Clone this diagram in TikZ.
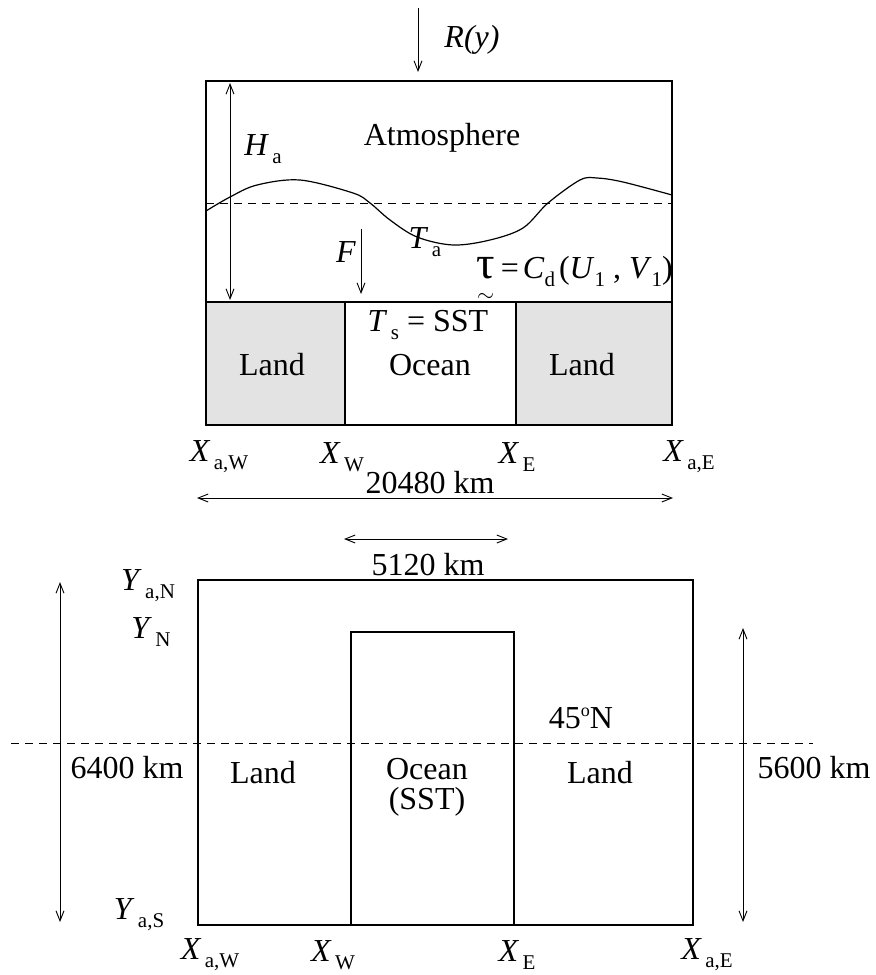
\documentclass[tikz,border=0pt]{standalone}
\usepackage{fontspec}
\setmainfont{Liberation Serif}
\usepackage{amsmath}
\usetikzlibrary{arrows.meta}

% italic symbol with an upright subscript
\newcommand{\sym}[2]{\textit{#1}\raisebox{-4pt}{\fontsize{10.5}{12}\selectfont\,#2}}
% same, set tight (for the stress formula)
\newcommand{\tsym}[2]{\textit{#1}\raisebox{-4pt}{\fontsize{10.5}{12}\selectfont #2}}

\begin{document}
\begin{tikzpicture}[x=0.5pt,y=-0.5pt,
  % Text styles
  lbl/.style={font=\fontsize{16}{19}\selectfont, inner sep=0pt},
  % Shape styles
  box/.style={draw, line width=1pt},
  land/.style={box, fill=gray!22},
  wall/.style={draw, line width=0.6pt},
  % Arrow styles
  dim/.style={{Straight Barb[length=5pt,width=4pt]}-{Straight Barb[length=5pt,width=4pt]}, line width=0.45pt},
  flux/.style={-{Straight Barb[length=5pt,width=4pt]}, line width=0.45pt},
  lat/.style={dashed, dash pattern=on 4pt off 3pt, line width=0.5pt},
]
\useasboundingbox (0,0) rectangle (875,975);

% === Top panel: vertical section ===
\draw[land] (206,302) rectangle (345,425);
\draw[land] (516,302) rectangle (672,425);
\draw[box] (206,81) rectangle (672,425);
\draw[box] (206,302) -- (672,302);
\draw[wall] (345,302) -- (345,425);
\draw[wall] (516,302) -- (516,425);

% mean level and T_a profile
\draw[lat] (206,203) -- (672,203);
\draw[line width=0.6pt] plot[smooth, tension=0.55] coordinates {
  (206,211) (230,197) (257,185) (300,180) (353,193) (370,203) (390,220)
  (417,237) (453,245) (490,240) (523,228) (548,203) (580,180) (597,178)
  (623,182) (672,195)};

% radiation, height, heat flux
\coordinate (Rtop) at (418,8);
\coordinate (Rbot) at (418,72);
\draw[flux] (Rtop) -- (Rbot);
\node[lbl, font=\fontsize{16}{19}\selectfont\itshape] (R) at (472,40) {R(y)};

\coordinate (Htop) at (230,83);
\coordinate (Hbot) at (230,300);
\draw[dim] (Htop) -- (Hbot);
\node[lbl] (Ha) at (263,149) {\sym{H}{a}};

\node[lbl] (atm) at (442,138) {Atmosphere};

\coordinate (Ftop) at (361,229);
\coordinate (Fbot) at (361,294);
\draw[flux] (Ftop) -- (Fbot);
\node[lbl, font=\fontsize{16}{19}\selectfont\itshape] (F) at (346,252) {F};

\node[lbl] (Ta) at (425,242) {\sym{T}{a}};
\node[lbl, anchor=base west] (tau) at (476,278)
  {$\underset{\raisebox{-1pt}{$\scriptstyle\sim$}}{\text{\fontsize{23}{23}\selectfont τ}}$\hspace{3pt}=\hspace{2pt}\tsym{C}{d}\hspace{2pt}(\tsym{U}{1} , \tsym{V}{1})};

\node[lbl] (Ts) at (428,325) {\sym{T}{s} = SST};
\node[lbl] (ocean) at (430,365) {Ocean};
\node[lbl] (landW) at (272,365) {Land};
\node[lbl] (landE) at (582,365) {Land};

% x positions and widths
\node[lbl] (xaW) at (219,457) {\sym{X}{a,W}};
\node[lbl] (xW) at (342,457) {\sym{X}{W}};
\node[lbl] (xE) at (517,457) {\sym{X}{E}};
\node[lbl] (xaE) at (689,457) {\sym{X}{a,E}};

\coordinate (wideW) at (197,498);
\coordinate (wideE) at (673,498);
\draw[dim] (wideW) -- (wideE);
\node[lbl] (wide) at (430,483) {20480 km};

\coordinate (basinW) at (344,539);
\coordinate (basinE) at (508,539);
\draw[dim] (basinW) -- (basinE);
\node[lbl] (basin) at (428,565) {5120 km};

% === Bottom panel: plan view ===
\draw[box] (198,580) rectangle (693,925);
\draw[box] (351,925) -- (351,632) -- (514,632) -- (514,925);
\draw[lat] (11,743) -- (813,743);

\node[lbl] (yaN) at (148,586) {\sym{Y}{a,N}};
\node[lbl] (yN) at (151,632) {\sym{Y}{N}};
\node[lbl] (yaS) at (139,915) {\sym{Y}{a,S}};

\coordinate (tallN) at (60,582);
\coordinate (tallS) at (60,922);
\draw[dim] (tallN) -- (tallS);
\node[lbl] (tall) at (127,768) {6400 km};

\coordinate (oceanN) at (743,628);
\coordinate (oceanS) at (743,922);
\draw[dim] (oceanN) -- (oceanS);
\node[lbl] (otall) at (814,768) {5600 km};

\node[lbl] (lat45) at (581,718) {45\raisebox{6pt}{\fontsize{9}{9}\selectfont o}N};
\node[lbl] (planW) at (263,773) {Land};
\node[lbl, align=center, font=\fontsize{16}{15}\selectfont] (planO) at (427,787) {Ocean\\(SST)};
\node[lbl] (planE) at (600,773) {Land};

\node[lbl] (bxaW) at (210,955) {\sym{X}{a,W}};
\node[lbl] (bxW) at (333,955) {\sym{X}{W}};
\node[lbl] (bxE) at (517,955) {\sym{X}{E}};
\node[lbl] (bxaE) at (707,955) {\sym{X}{a,E}};
\end{tikzpicture}
\end{document}
